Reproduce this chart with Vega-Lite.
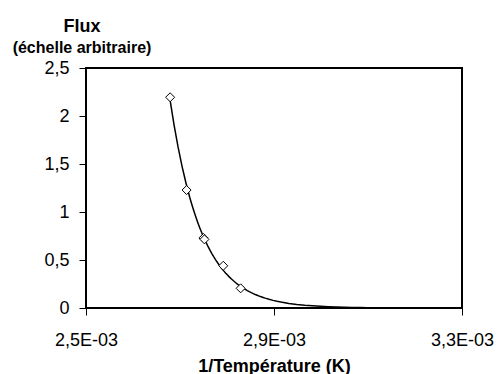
{
  "$schema": "https://vega.github.io/schema/vega-lite/v6.json",
  "width": 376,
  "height": 240,
  "autosize": {"type": "none"},
  "padding": {"left": 86, "top": 68, "right": 35, "bottom": 66},
  "background": "white",
  "config": {
    "font": "Liberation Sans",
    "view": {"stroke": "black", "strokeWidth": 2},
    "axis": {"grid": false, "domain": false, "tickColor": "black", "tickWidth": 1, "labelColor": "black", "titleColor": "black", "labelFont": "Liberation Sans", "titleFont": "Liberation Sans"}
  },
  "title": {
    "text": "Flux",
    "subtitle": "(échelle arbitraire)",
    "anchor": "start",
    "align": "center",
    "frame": "group",
    "dx": -4,
    "fontSize": 18,
    "fontWeight": "bold",
    "color": "black",
    "subtitleFontSize": 16,
    "subtitleFontWeight": "bold",
    "subtitleColor": "black",
    "subtitleFont": "Liberation Sans",
    "font": "Liberation Sans",
    "offset": 3,
    "subtitlePadding": 4
  },
  "data": {
    "values": [
      {"invT": 0.002679, "flux": 2.195},
      {"invT": 0.002714, "flux": 1.229},
      {"invT": 0.002750, "flux": 0.73},
      {"invT": 0.002752, "flux": 0.715},
      {"invT": 0.002792, "flux": 0.44},
      {"invT": 0.002829, "flux": 0.205}
    ]
  },
  "encoding": {
    "x": {
      "field": "invT",
      "type": "quantitative",
      "scale": {"domain": [0.0025, 0.0033], "nice": false},
      "axis": {
        "values": [0.0025, 0.0029, 0.0033],
        "labelExpr": "replace(format(datum.value*1000, '.1f'), '.', ',') + 'E-03'",
        "title": "1/Température (K)",
        "titleFontSize": 18,
        "titleFontWeight": "bold",
        "titlePadding": 8,
        "labelFontSize": 18,
        "labelPadding": 16,
        "tickSize": 7,
        "labelFlush": false
      }
    },
    "y": {
      "field": "flux",
      "type": "quantitative",
      "scale": {"domain": [0, 2.5], "nice": false},
      "axis": {
        "values": [0, 0.5, 1, 1.5, 2, 2.5],
        "labelExpr": "replace(format(datum.value, '~g'), '.', ',')",
        "title": null,
        "labelFontSize": 18,
        "labelPadding": 10,
        "tickSize": 7
      }
    }
  },
  "layer": [
    {
      "transform": [{"regression": "flux", "on": "invT", "method": "exp", "extent": [0.002679, 0.0031]}],
      "mark": {"type": "line", "color": "black", "strokeWidth": 1.5}
    },
    {
      "mark": {"type": "point", "shape": "diamond", "filled": true, "fill": "white", "stroke": "black", "strokeWidth": 1, "size": 81, "opacity": 1}
    }
  ]
}
